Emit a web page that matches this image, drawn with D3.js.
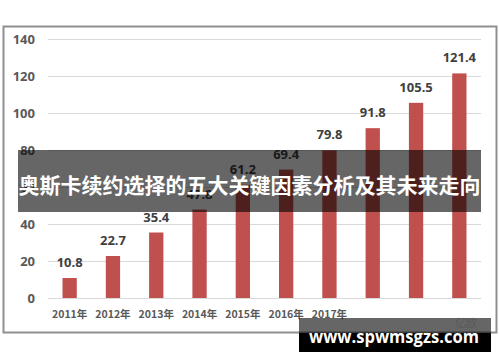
<!DOCTYPE html>
<html>
<head>
  <meta charset="utf-8">
  <script src="https://d3js.org/d3.v7.min.js"></script>
  <style>
    body { margin: 0; background: #fff; }
    svg { display: block; font-family: "Noto Sans CJK SC", "Noto Sans", sans-serif; }
  </style>
</head>
<body>
  <svg width="500" height="362"></svg>

  <script>
    // chart data
    var years = ["2011年", "2012年", "2013年", "2014年", "2015年", "2016年", "2017年", "2018年", "2019年", "2020年"];
    var values = [10.8, 22.7, 35.4, 47.8, 61.2, 69.4, 79.8, 91.8, 105.5, 121.4];
    var shownLabels = ["2011年", "2012年", "2013年", "2014年", "2015年", "2016年", "2017年"];
    var yTicks = [0, 20, 40, 60, 80, 100, 120, 140];
    var title = "奥斯卡续约选择的五大关键因素分析及其未来走向";
    var siteMark = "www.spwmsgzs.com";

    var svg = d3.select("svg");

    // outer frame
    svg.append("rect")
      .attr("x", 3.5).attr("y", 26.5)
      .attr("width", 493).attr("height", 306)
      .attr("fill", "#fff")
      .attr("stroke", "#8f8f8f")
      .attr("stroke-width", 2);

    var x = d3.scaleBand()
      .domain(years)
      .range([48, 481])
      .paddingInner(0.67)
      .paddingOuter(0.335);

    var y = d3.scaleLinear()
      .domain([0, 140])
      .range([298, 39]);

    // y axis with gridlines
    var yAxis = svg.append("g")
      .attr("transform", "translate(48,0)")
      .call(d3.axisLeft(y).tickValues(yTicks).tickSize(-433).tickPadding(13));
    yAxis.select(".domain").remove();
    yAxis.selectAll(".tick line").attr("stroke", "#d9d9d9").attr("stroke-width", 1);
    yAxis.selectAll(".tick text")
      .attr("fill", "#595959")
      .attr("font-size", 13)
      .attr("font-weight", "bold")
      .attr("font-family", "'Noto Sans', sans-serif");

    // x axis labels
    var xAxis = svg.append("g")
      .attr("transform", "translate(0,298)")
      .call(d3.axisBottom(x).tickValues(shownLabels).tickSize(0).tickPadding(13));
    xAxis.select(".domain").remove();
    xAxis.selectAll(".tick text")
      .attr("fill", "#595959")
      .attr("font-size", 10.5)
      .attr("font-weight", "bold")
      .attr("font-family", "'Noto Sans CJK SC', sans-serif");

    // bars
    svg.selectAll(".bar")
      .data(values)
      .enter()
      .append("rect")
      .attr("class", "bar")
      .attr("x", (d, i) => x(years[i]))
      .attr("y", d => y(d))
      .attr("width", x.bandwidth())
      .attr("height", d => y(0) - y(d))
      .attr("fill", "#c0504d");

    // value labels
    svg.selectAll(".val")
      .data(values)
      .enter()
      .append("text")
      .attr("class", "val")
      .attr("x", (d, i) => x(years[i]) + x.bandwidth() / 2)
      .attr("y", d => y(d) - 11)
      .attr("text-anchor", "middle")
      .attr("fill", "#404040")
      .attr("font-size", 13)
      .attr("font-weight", "bold")
      .attr("font-family", "'Noto Sans', sans-serif")
      .text(d => d);

    // faint logo watermark
    svg.append("text")
      .attr("x", 466).attr("y", 327)
      .attr("text-anchor", "middle")
      .attr("fill", "#e2e2e2")
      .attr("font-size", 11)
      .text("亿欧");

    // title band over the chart
    svg.append("rect")
      .attr("x", 18).attr("y", 150)
      .attr("width", 463).attr("height", 62)
      .attr("fill", "#000")
      .attr("fill-opacity", 0.6);

    svg.append("text")
      .attr("x", 249.5).attr("y", 184)
      .attr("text-anchor", "middle")
      .attr("dominant-baseline", "central")
      .attr("fill", "#fff")
      .attr("font-size", 21)
      .attr("font-weight", "bold")
      .attr("textLength", 462)
      .attr("lengthAdjust", "spacingAndGlyphs")
      .text(title);

    // site mark box
    svg.append("rect")
      .attr("x", 299).attr("y", 318)
      .attr("width", 192).attr("height", 15)
      .attr("fill", "#000")
      .attr("fill-opacity", 0.6);
    svg.append("rect")
      .attr("x", 299).attr("y", 333)
      .attr("width", 192).attr("height", 19)
      .attr("fill", "#000");

    svg.append("text")
      .attr("x", 394).attr("y", 343)
      .attr("text-anchor", "middle")
      .attr("fill", "#fff")
      .attr("font-size", 17)
      .attr("font-weight", "bold")
      .attr("font-family", "'Open Sans', 'Noto Sans', sans-serif")
      .attr("textLength", 170)
      .attr("lengthAdjust", "spacingAndGlyphs")
      .text(siteMark);
  </script>
</body>
</html>
